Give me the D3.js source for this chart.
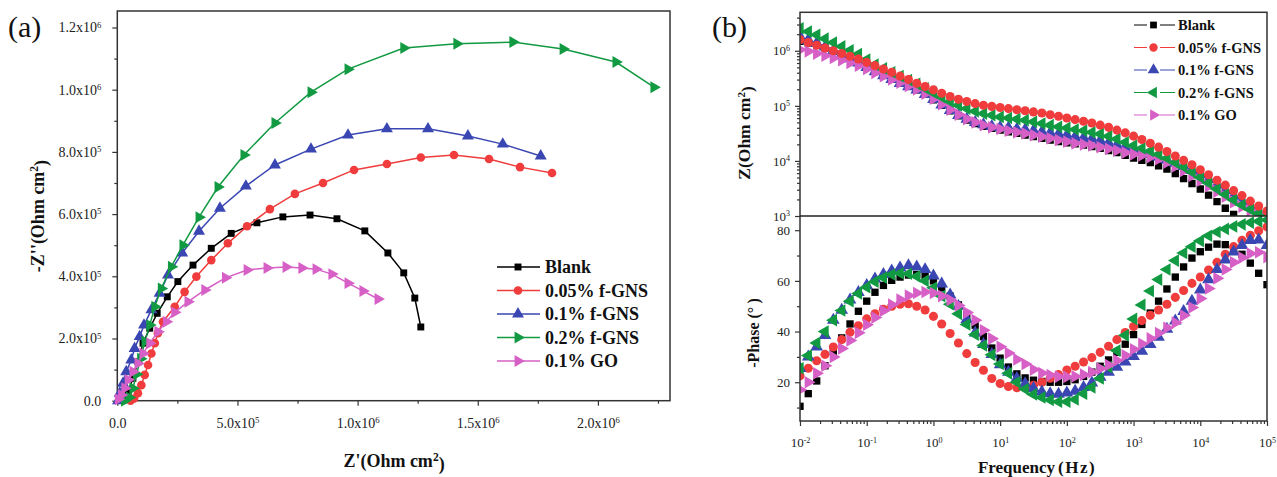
<!DOCTYPE html>
<html><head><meta charset="utf-8">
<script src="https://cdn.jsdelivr.net/npm/d3@7"></script>
<style>body{margin:0;background:#fff}svg{display:block}</style>
</head><body>
<svg id="c" width="1277" height="477"></svg>
<script>
// ---------------- DATA ----------------
const seriesNames = ["Blank", "0.05% f-GNS", "0.1% f-GNS", "0.2% f-GNS", "0.1% GO"];
const seriesColors = ["#000000", "#f03c3c", "#3a47b2", "#119a42", "#d660c6"];

// (a) Nyquist: Z' and -Z'' (Ohm cm2)
const nyqBlankRe = [0.03e6,0.045e6,0.065e6,0.086e6,0.107e6,0.135e6,0.166e6,0.208e6,0.252e6,0.315e6,0.391e6,0.474e6,0.581e6,0.689e6,0.802e6,0.914e6,1.030e6,1.126e6,1.192e6,1.238e6,1.263e6];
const nyqBlankIm = [0.003e6,0.029e6,0.072e6,0.125e6,0.185e6,0.233e6,0.281e6,0.334e6,0.383e6,0.436e6,0.490e6,0.538e6,0.572e6,0.591e6,0.597e6,0.585e6,0.546e6,0.475e6,0.411e6,0.330e6,0.237e6];
const nyqF005Re = [0.055e6,0.07e6,0.086e6,0.100e6,0.114e6,0.128e6,0.142e6,0.156e6,0.169e6,0.190e6,0.239e6,0.280e6,0.329e6,0.391e6,0.460e6,0.540e6,0.635e6,0.739e6,0.856e6,0.985e6,1.122e6,1.263e6,1.401e6,1.547e6,1.676e6,1.809e6];
const nyqF005Im = [0,0.007e6,0.024e6,0.050e6,0.083e6,0.115e6,0.152e6,0.185e6,0.217e6,0.254e6,0.302e6,0.350e6,0.399e6,0.452e6,0.506e6,0.561e6,0.616e6,0.665e6,0.700e6,0.742e6,0.761e6,0.782e6,0.790e6,0.777e6,0.751e6,0.732e6];
const nyqF01Re = [0.003e6,0.010e6,0.024e6,0.037e6,0.058e6,0.072e6,0.093e6,0.111e6,0.142e6,0.176e6,0.211e6,0.270e6,0.340e6,0.427e6,0.535e6,0.656e6,0.806e6,0.960e6,1.122e6,1.293e6,1.459e6,1.604e6,1.762e6];
const nyqF01Im = [0,0.024e6,0.056e6,0.093e6,0.131e6,0.168e6,0.206e6,0.243e6,0.292e6,0.345e6,0.404e6,0.475e6,0.545e6,0.619e6,0.690e6,0.758e6,0.809e6,0.854e6,0.874e6,0.874e6,0.851e6,0.825e6,0.787e6];
const nyqF02Re = [0.030e6,0.050e6,0.065e6,0.080e6,0.097e6,0.115e6,0.135e6,0.156e6,0.183e6,0.225e6,0.273e6,0.340e6,0.419e6,0.527e6,0.656e6,0.806e6,0.960e6,1.192e6,1.413e6,1.646e6,1.855e6,2.075e6,2.233e6];
const nyqF02Im = [0,0.010e6,0.040e6,0.085e6,0.135e6,0.190e6,0.243e6,0.302e6,0.361e6,0.431e6,0.500e6,0.590e6,0.687e6,0.790e6,0.893e6,0.992e6,1.066e6,1.134e6,1.148e6,1.153e6,1.131e6,1.089e6,1.008e6];
const nyqGORe = [0.004e6,0.017e6,0.031e6,0.045e6,0.065e6,0.086e6,0.107e6,0.135e6,0.169e6,0.204e6,0.239e6,0.294e6,0.364e6,0.450e6,0.540e6,0.623e6,0.702e6,0.768e6,0.827e6,0.893e6,0.960e6,1.022e6,1.085e6];
const nyqGOIm = [0.005e6,0.018e6,0.040e6,0.067e6,0.093e6,0.120e6,0.152e6,0.185e6,0.222e6,0.254e6,0.284e6,0.318e6,0.356e6,0.395e6,0.420e6,0.427e6,0.430e6,0.427e6,0.423e6,0.407e6,0.378e6,0.353e6,0.327e6];

// (b) Bode: frequency (Hz)
const freq = [0.01,0.0133,0.0178,0.0237,0.0316,0.0422,0.0562,0.075,0.1,0.133,0.178,0.237,0.316,0.422,0.562,0.75,1,1.33,1.78,2.37,3.16,4.22,5.62,7.5,10,13.3,17.8,23.7,31.6,42.2,56.2,75,100,133,178,237,316,422,562,750,1000,1330,1780,2370,3160,4220,5620,7500,10000,13300,17800,23700,31600,42200,56200,75000,100000];
// log10 |Z| (Ohm cm2)
const logZBlank = [6.17,6.14,6.10,6.05,6.00,5.94,5.88,5.81,5.73,5.64,5.56,5.49,5.42,5.36,5.29,5.21,5.11,5.01,4.91,4.82,4.74,4.68,4.63,4.59,4.56,4.53,4.50,4.47,4.44,4.41,4.38,4.35,4.33,4.31,4.29,4.26,4.23,4.19,4.15,4.10,4.05,4.01,3.97,3.91,3.85,3.77,3.68,3.59,3.49,3.38,3.26,3.14,3.03,2.93,2.84,2.75,2.66];
const logZF005 = [6.20,6.15,6.10,6.05,6.00,5.95,5.90,5.85,5.79,5.73,5.67,5.61,5.54,5.48,5.41,5.35,5.29,5.23,5.17,5.12,5.08,5.04,5.01,4.99,4.97,4.95,4.93,4.91,4.89,4.87,4.84,4.81,4.78,4.75,4.72,4.69,4.65,4.61,4.56,4.51,4.45,4.39,4.32,4.25,4.17,4.09,4.01,3.93,3.84,3.75,3.65,3.56,3.46,3.37,3.27,3.18,3.09];
const logZF01 = [6.26,6.20,6.14,6.07,6.00,5.93,5.86,5.78,5.70,5.62,5.55,5.48,5.41,5.35,5.29,5.21,5.12,5.02,4.92,4.83,4.76,4.70,4.66,4.63,4.61,4.60,4.58,4.57,4.55,4.53,4.51,4.49,4.47,4.44,4.42,4.40,4.37,4.33,4.29,4.25,4.20,4.16,4.12,4.07,4.02,3.96,3.90,3.83,3.75,3.66,3.56,3.46,3.36,3.26,3.17,3.08,3.00];
const logZF02 = [6.41,6.35,6.29,6.22,6.15,6.08,6.01,5.94,5.84,5.75,5.68,5.61,5.54,5.47,5.40,5.32,5.24,5.16,5.08,5.01,4.95,4.90,4.86,4.83,4.80,4.78,4.76,4.74,4.71,4.68,4.65,4.62,4.60,4.57,4.55,4.52,4.49,4.45,4.40,4.34,4.28,4.23,4.18,4.12,4.05,3.97,3.89,3.80,3.70,3.60,3.49,3.39,3.29,3.20,3.12,3.05,3.00];
const logZGO = [6.02,5.99,5.95,5.91,5.87,5.83,5.78,5.73,5.67,5.60,5.54,5.48,5.42,5.36,5.30,5.22,5.13,5.03,4.93,4.84,4.76,4.70,4.65,4.61,4.58,4.55,4.52,4.50,4.47,4.44,4.41,4.38,4.35,4.32,4.30,4.28,4.25,4.22,4.19,4.15,4.12,4.10,4.07,4.03,3.97,3.90,3.82,3.73,3.64,3.54,3.44,3.35,3.25,3.17,3.10,3.04,2.99];
// -Phase (degrees)
const phaseBlank = [10.5,15.5,20.5,26.5,32,37.5,43,48,52,55.5,58.2,60.2,61.5,62.3,62.5,61.8,60,57.2,54,50.5,46.8,42.5,38,33.5,29.5,26,23.3,21.7,20.8,20.3,20,20,20.3,21,22.3,24,26.3,28.8,31.8,35,38.8,42.8,47.3,52,56.8,61.5,65.5,69,71.5,73.3,74.5,74.3,72.8,70.5,67,63,58.5];
const phaseF005 = [22.5,25.5,28.5,31,33.9,36.8,39.7,42.3,45,47,48.8,50,50.8,51,50,48.5,46,43,39.2,35.5,31.3,27.8,24.7,21.5,19.5,18.3,17.8,17.9,18.8,20,21.6,23,24.8,26.3,28,29.7,31.8,34.2,36.8,39.6,42,44.3,46.4,48.5,50.8,53.5,56.2,59,61.5,64.3,67.3,70.5,73.5,76,78,79.8,81.3];
const phaseF01 = [25.5,30,34,38.5,44.5,48.5,52.5,55.5,58.2,60.8,62.6,64,65.2,66,65.5,64.5,62,58.8,54.5,50,44.8,39.5,35,31,27,24,21.5,19.5,17.6,16.2,15.5,15.3,15.8,16.5,18,19.8,22,24,26,28,30.2,32.3,35,37.8,41,44.2,48,52,56.5,60.5,64.5,68.3,71.5,74,76,76.2,74];
const phaseF02 = [25.5,30.5,35.5,40,44.5,48.3,52,55,57.5,59.7,61.3,62.5,63,62.8,61.8,60,57.3,54,50.8,47,42.8,38.8,34.5,30.8,27.2,23.5,20,17.3,15.2,14,13,12.3,12.3,13.2,15.5,18,21.5,26,32.5,38.5,45,50.5,56,60.5,64.5,68,71,73.5,75.8,77.8,79.3,80.5,81.5,82.3,83,83.5,84];
const phaseGO = [17,20,23.5,26.5,30,33.3,36.5,39.5,42.7,45.5,48.2,50.6,52.6,54.2,55.2,55.6,55.2,54,52.5,50.3,47.5,44.5,40.5,37.2,34,31.5,29,27.2,25,23.6,22.8,22.2,22.1,22.3,23,24,25.4,26.8,28.6,30.6,33,35.2,37.3,39.4,41.5,43.5,46.3,49.5,53,57,61,64.5,67.3,69.2,70.8,71.3,69.4];

// ticks
const nyqYMajor = [0, 2e5, 4e5, 6e5, 8e5, 1e6, 1.2e6];
const nyqYMant = ["0.0","2.0x10","4.0x10","6.0x10","8.0x10","1.0x10","1.2x10"];
const nyqYExp = ["","5","5","5","5","6","6"];
const nyqYMinor = [1e5, 3e5, 5e5, 7e5, 9e5, 1.1e6];
const nyqXMajor = [0, 5e5, 1e6, 1.5e6, 2e6];
const nyqXMant = ["0.0","5.0x10","1.0x10","1.5x10","2.0x10"];
const nyqXExp = ["","5","6","6","6"];
const nyqXMinor = [2.5e5, 7.5e5, 1.25e6, 1.75e6, 2.25e6];
const zMajor = [1e3, 1e4, 1e5, 1e6];
const zExp = ["3","4","5","6"];
const phaseMajor = [20, 40, 60, 80];
const phaseMinor = [10, 30, 50, 70];
const freqMajor = [1e-2, 1e-1, 1, 1e1, 1e2, 1e3, 1e4, 1e5];
const freqExp = ["-2","-1","0","1","2","3","4","5"];

// ---------------- DRAW ----------------
const FONT = '"Liberation Serif","Times New Roman",serif';
const svg = d3.select("#c");
const AX = "#333";

function styleAxis(g) {
  g.select(".domain").remove();
  g.selectAll(".tick line").attr("stroke", AX).attr("stroke-width", 1.2);
  g.selectAll("text").attr("font-family", FONT).attr("fill", "#222");
}
function supText(g, mant, exp, fs) {
  g.selectAll(".tick text").each(function(d, i) {
    const t = d3.select(this).text(null).attr("font-size", fs);
    t.append("tspan").text(mant[i]);
    if (exp[i] !== "") t.append("tspan").attr("dy", "-0.55em").attr("font-size", fs * 0.62).text(exp[i]);
  });
}
function symFor(i, bode) {
  const k = bode ? 1.12 : 1;
  if (i === 0) return {type: d3.symbolSquare, size: 48 * k, rot: 0};
  if (i === 1) return {type: d3.symbolCircle, size: 58 * k, rot: 0};
  if (i === 2) return {type: d3.symbolTriangle, size: 62 * k, rot: 0};
  if (i === 3) return {type: d3.symbolTriangle, size: 62 * k, rot: bode ? -90 : 90};
  return {type: d3.symbolTriangle, size: 62 * k, rot: 90};
}

// ===== Panel (a) =====
const ax = d3.scaleLinear().domain([0, 2.3e6]).range([117.3, 670]);
const ay = d3.scaleLinear().domain([0, 1.253e6]).range([400.7, 11]);
const gA = svg.append("g");

let g = gA.append("g").attr("transform", `translate(${ax(0)},0)`)
  .call(d3.axisLeft(ay).tickValues(nyqYMinor).tickSize(3).tickSizeOuter(0).tickFormat(""));
styleAxis(g);
g = gA.append("g").attr("transform", `translate(${ax(0)},0)`)
  .call(d3.axisLeft(ay).tickValues(nyqYMajor).tickSize(5).tickSizeOuter(0).tickPadding(11));
styleAxis(g); supText(g, nyqYMant, nyqYExp, 14);
g = gA.append("g").attr("transform", `translate(0,${ay(0)})`)
  .call(d3.axisBottom(ax).tickValues(nyqXMinor).tickSize(3).tickSizeOuter(0).tickFormat(""));
styleAxis(g);
g = gA.append("g").attr("transform", `translate(0,${ay(0)})`)
  .call(d3.axisBottom(ax).tickValues(nyqXMajor).tickSize(5).tickSizeOuter(0).tickPadding(12));
styleAxis(g); supText(g, nyqXMant, nyqXExp, 14);

gA.append("rect").attr("x", ax(0)).attr("y", ay.range()[1])
  .attr("width", ax.range()[1] - ax(0)).attr("height", ay(0) - ay.range()[1])
  .attr("fill", "none").attr("stroke", AX).attr("stroke-width", 1.5);

const nyqSeries = [
  [nyqBlankRe, nyqBlankIm], [nyqF005Re, nyqF005Im], [nyqF01Re, nyqF01Im],
  [nyqF02Re, nyqF02Im], [nyqGORe, nyqGOIm]
];
const lineA = d3.line().x(d => ax(d[0])).y(d => ay(d[1]));
nyqSeries.forEach((s, i) => {
  const pts = s[0].map((x, k) => [x, s[1][k]]);
  gA.append("path").attr("d", lineA(pts)).attr("fill", "none")
    .attr("stroke", seriesColors[i]).attr("stroke-width", 1.5);
  const sy = symFor(i, false);
  gA.append("g").selectAll("path").data(pts).join("path")
    .attr("d", d3.symbol(sy.type, sy.size))
    .attr("transform", d => `translate(${ax(d[0])},${ay(d[1])}) rotate(${sy.rot})`)
    .attr("fill", seriesColors[i]);
});

// legend (a)
const legA = gA.append("g");
seriesNames.forEach((n, i) => {
  const y = 267 + i * 23.5;
  legA.append("line").attr("x1", 497).attr("x2", 540).attr("y1", y).attr("y2", y)
    .attr("stroke", seriesColors[i]).attr("stroke-width", 1.5);
  const sy = symFor(i, false);
  legA.append("path").attr("d", d3.symbol(sy.type, sy.size))
    .attr("transform", `translate(518,${y}) rotate(${sy.rot})`).attr("fill", seriesColors[i]);
  legA.append("text").attr("x", 545).attr("y", y).attr("dy", "0.35em")
    .attr("font-family", FONT).attr("font-weight", "bold").attr("font-size", 18)
    .attr("fill", "#111").text(n);
});

// axis titles (a)
const tA1 = gA.append("text").attr("transform", "translate(44,216) rotate(-90)")
  .attr("text-anchor", "middle").attr("font-family", FONT).attr("font-weight", "bold")
  .attr("font-size", 18).attr("fill", "#111");
tA1.append("tspan").text("-Z''(Ohm cm");
tA1.append("tspan").attr("dy", "-0.5em").attr("font-size", 11.5).text("2");
tA1.append("tspan").attr("dy", "0.5em").text(")");
const tA2 = gA.append("text").attr("x", 394).attr("y", 467)
  .attr("text-anchor", "middle").attr("font-family", FONT).attr("font-weight", "bold")
  .attr("font-size", 18).attr("fill", "#111");
tA2.append("tspan").text("Z'(Ohm cm");
tA2.append("tspan").attr("dy", "-0.5em").attr("font-size", 11.5).text("2");
tA2.append("tspan").attr("dy", "0.5em").text(")");
svg.append("text").attr("x", 8).attr("y", 37).attr("font-family", FONT)
  .attr("font-size", 30).attr("fill", "#111").text("(a)");

// ===== Panel (b) =====
const bx = d3.scaleLog().domain([1e-2, 1e5]).range([800, 1267]);
const byZ = d3.scaleLog().domain([1e3, 5.0e6]).range([216, 12.3]);
const byP = d3.scaleLinear().domain([4.7, 85.6]).range([421, 216]);
const gB = svg.append("g");

const defs = svg.append("defs");
defs.append("clipPath").attr("id", "clipTop").append("rect")
  .attr("x", 800).attr("y", 12.3).attr("width", 467).attr("height", 216 - 12.3);
defs.append("clipPath").attr("id", "clipBot").append("rect")
  .attr("x", 800).attr("y", 216).attr("width", 467).attr("height", 421 - 216);

// minor log ticks
const zMinor = [], fMinor = [];
for (let e = 3; e <= 6; e++) for (let m = 2; m <= 9; m++) { const v = m * Math.pow(10, e); if (v < 5.0e6) zMinor.push(v); }
for (let e = -2; e <= 4; e++) for (let m = 2; m <= 9; m++) fMinor.push(m * Math.pow(10, e));

g = gB.append("g").attr("transform", "translate(800,0)")
  .call(d3.axisLeft(byZ).tickValues(zMinor).tickSize(3).tickSizeOuter(0).tickFormat(""));
styleAxis(g);
g = gB.append("g").attr("transform", "translate(800,0)")
  .call(d3.axisLeft(byZ).tickValues(zMajor).tickSize(5).tickSizeOuter(0).tickPadding(5));
styleAxis(g); supText(g, zMajor.map(() => "10"), zExp, 13);
g = gB.append("g").attr("transform", "translate(800,0)")
  .call(d3.axisLeft(byP).tickValues(phaseMinor).tickSize(3).tickSizeOuter(0).tickFormat(""));
styleAxis(g);
g = gB.append("g").attr("transform", "translate(800,0)")
  .call(d3.axisLeft(byP).tickValues(phaseMajor).tickSize(5).tickSizeOuter(0).tickPadding(5).tickFormat(d => d));
styleAxis(g); g.selectAll("text").attr("font-size", 13);
g = gB.append("g").attr("transform", "translate(0,421)")
  .call(d3.axisBottom(bx).tickValues(fMinor).tickSize(3).tickSizeOuter(0).tickFormat(""));
styleAxis(g);
g = gB.append("g").attr("transform", "translate(0,421)")
  .call(d3.axisBottom(bx).tickValues(freqMajor).tickSize(5).tickSizeOuter(0).tickPadding(12));
styleAxis(g); supText(g, freqMajor.map(() => "10"), freqExp, 13);

const logZSeries = [logZBlank, logZF005, logZF01, logZF02, logZGO];
const phaseSeries = [phaseBlank, phaseF005, phaseF01, phaseF02, phaseGO];
const topLayer = gB.append("g").attr("clip-path", "url(#clipTop)");
const botLayer = gB.append("g").attr("clip-path", "url(#clipBot)");
const zOrder = [0, 2, 4, 3, 1];
zOrder.forEach(i => {
  const sy = symFor(i, true);
  topLayer.append("g").selectAll("path").data(freq.map((f, k) => [f, Math.pow(10, logZSeries[i][k])]))
    .join("path").attr("d", d3.symbol(sy.type, sy.size))
    .attr("transform", d => `translate(${bx(d[0])},${byZ(d[1])}) rotate(${sy.rot})`)
    .attr("fill", seriesColors[i]);
});
[0, 1, 2, 3, 4].forEach(i => {
  const sy = symFor(i, true);
  botLayer.append("g").selectAll("path").data(freq.map((f, k) => [f, phaseSeries[i][k]]))
    .join("path").attr("d", d3.symbol(sy.type, sy.size))
    .attr("transform", d => `translate(${bx(d[0])},${byP(d[1])}) rotate(${sy.rot})`)
    .attr("fill", seriesColors[i]);
});

// frames (b)
gB.append("rect").attr("x", 800).attr("y", 12.3).attr("width", 467).attr("height", 421 - 12.3)
  .attr("fill", "none").attr("stroke", AX).attr("stroke-width", 1.5);
gB.append("line").attr("x1", 800).attr("x2", 1267).attr("y1", 216).attr("y2", 216)
  .attr("stroke", "#222").attr("stroke-width", 1.6);

// legend (b)
const legB = gB.append("g");
seriesNames.forEach((n, i) => {
  const y = 25 + i * 22.5;
  legB.append("line").attr("x1", 1134).attr("x2", 1147).attr("y1", y).attr("y2", y)
    .attr("stroke", seriesColors[i]).attr("stroke-width", 1);
  legB.append("line").attr("x1", 1160).attr("x2", 1175).attr("y1", y).attr("y2", y)
    .attr("stroke", seriesColors[i]).attr("stroke-width", 1);
  const sy = symFor(i, true);
  legB.append("path").attr("d", d3.symbol(sy.type, sy.size * 0.85))
    .attr("transform", `translate(1153.5,${y}) rotate(${sy.rot})`).attr("fill", seriesColors[i]);
  legB.append("text").attr("x", 1178).attr("y", y).attr("dy", "0.35em")
    .attr("font-family", FONT).attr("font-weight", "bold").attr("font-size", 14.5)
    .attr("fill", "#111").text(n);
});

// axis titles (b)
const tB1 = gB.append("text").attr("transform", "translate(750,133) rotate(-90)")
  .attr("text-anchor", "middle").attr("font-family", FONT).attr("font-weight", "bold")
  .attr("font-size", 17.5).attr("fill", "#111");
tB1.append("tspan").text("Z(Ohm cm");
tB1.append("tspan").attr("dy", "-0.5em").attr("font-size", 11).text("2");
tB1.append("tspan").attr("dy", "0.5em").text(")");
gB.append("text").attr("transform", "translate(759,333) rotate(-90)")
  .attr("text-anchor", "middle").attr("font-family", FONT).attr("font-weight", "bold")
  .attr("font-size", 16).attr("fill", "#111").text("-Phase (°\u2009)");
const tB3 = gB.append("text").attr("x", 1037).attr("y", 473)
  .attr("text-anchor", "middle").attr("font-family", FONT).attr("font-weight", "bold")
  .attr("font-size", 17).attr("fill", "#111");
tB3.append("tspan").text("Frequency");
tB3.append("tspan").attr("dx", 3).attr("letter-spacing", 1.5).text("(Hz)");
svg.append("text").attr("x", 712).attr("y", 37).attr("font-family", FONT)
  .attr("font-size", 30).attr("fill", "#111").text("(b)");
</script>
</body></html>
